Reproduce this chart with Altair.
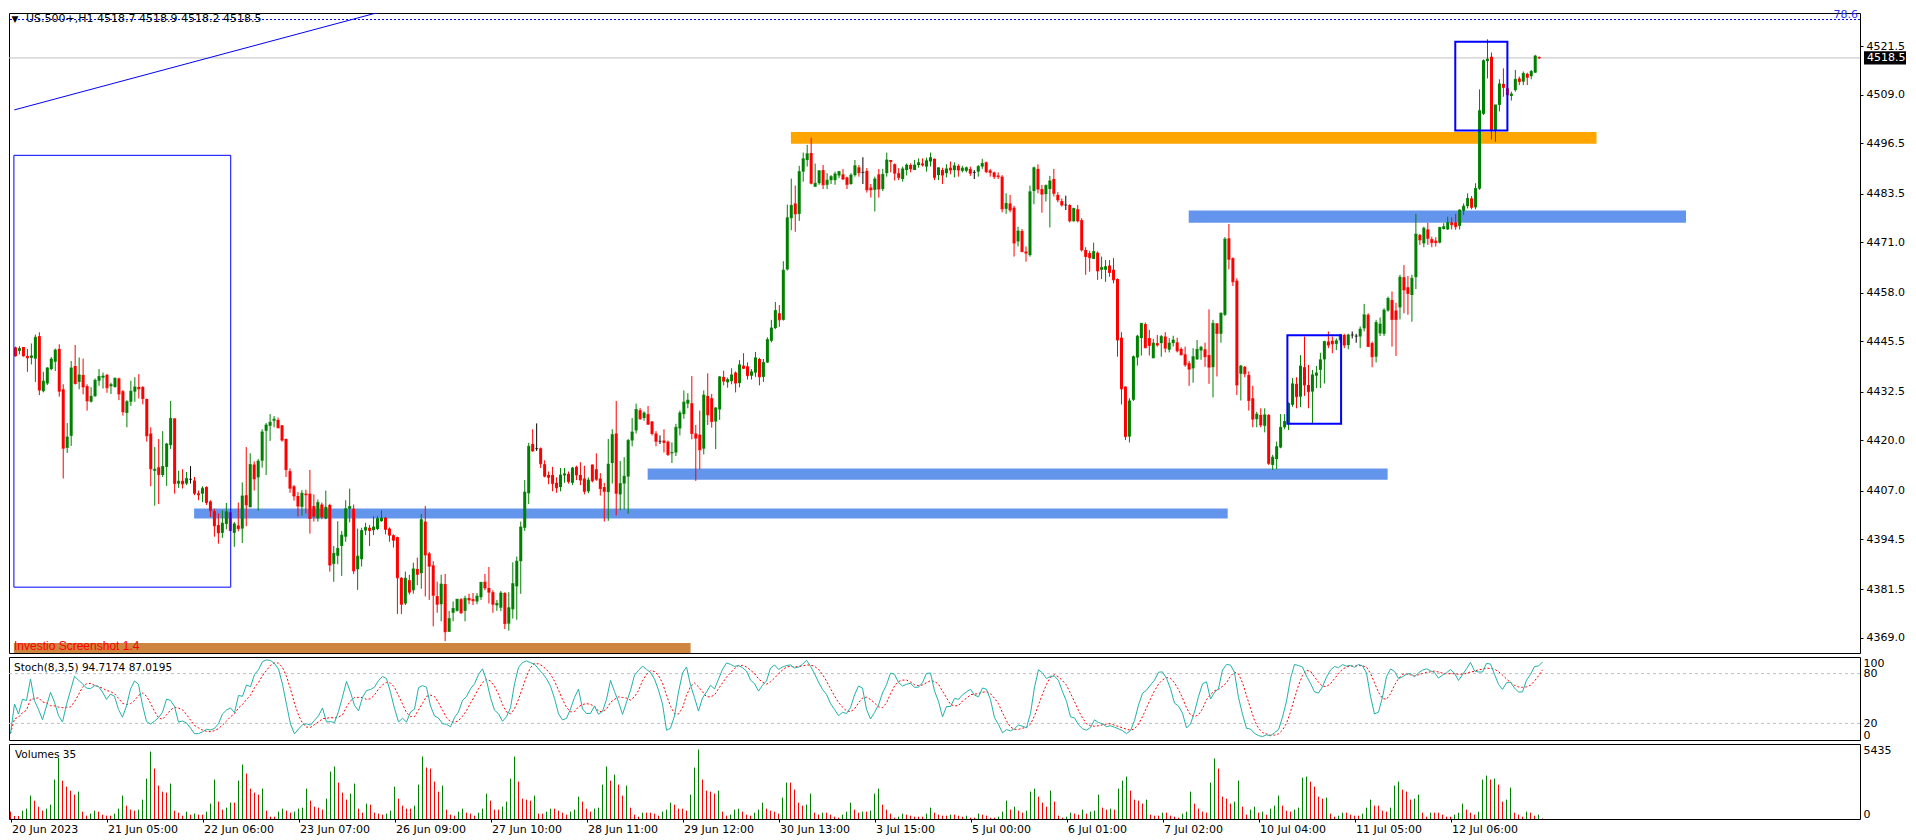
import altair as alt
import pandas as pd

# ---------------- labels / ticks ----------------
time_labels = ["20 Jun 2023", "21 Jun 05:00", "22 Jun 06:00", "23 Jun 07:00", "26 Jun 09:00",
               "27 Jun 10:00", "28 Jun 11:00", "29 Jun 12:00", "30 Jun 13:00", "3 Jul 15:00",
               "5 Jul 00:00", "6 Jul 01:00", "7 Jul 02:00", "10 Jul 04:00", "11 Jul 05:00",
               "12 Jul 06:00"]
time_label_bars = [0, 24, 48, 72, 96, 120, 144, 168, 192, 216, 240, 264, 288, 312, 336, 360]
price_ticks = [4369.0, 4381.5, 4394.5, 4407.0, 4420.0, 4432.5, 4445.5, 4458.0, 4471.0,
               4483.5, 4496.5, 4509.0, 4521.5]
stoch_ticks = [0, 20, 80, 100]
stoch_levels = [20, 80]
volume_ticks = [0, 5435]
last_price = 4518.5
fib_level = 4528.4

# ---------------- US.500+ H1 candles ----------------
open_ = [
4443.9,4443.0,4444.0,4441.7,4441.2,4441.0,4446.8,4432.6,4434.6,4438.3,
4440.2,4443.5,4433.1,4418.0,4421.1,4439.1,4435.0,4436.8,4433.9,4429.9,
4431.3,4435.3,4436.1,4436.8,4433.9,4433.7,4435.9,4432.6,4427.0,4429.9,
4432.5,4433.7,4433.7,4430.6,4421.7,4412.1,4413.0,4411.0,4413.1,4418.7,
4425.6,4408.8,4409.5,4408.8,4409.9,4409.6,4406.3,4406.2,4407.9,4404.2,
4401.7,4398.1,4396.1,4398.4,4401.4,4396.1,4398.0,4397.2,4405.8,4402.7,
4413.7,4410.4,4414.7,4422.4,4423.7,4425.0,4425.2,4423.8,4420.3,4412.0,
4408.1,4405.6,4402.8,4406.2,4406.2,4403.0,4399.8,4403.4,4399.8,4403.3,
4388.1,4390.2,4392.7,4395.1,4402.3,4402.3,4386.7,4389.3,4396.7,4397.4,
4396.8,4397.1,4399.1,4400.0,4397.2,4395.5,4395.0,4384.5,4377.9,4383.9,
4381.3,4386.8,4385.7,4399.0,4390.8,4387.7,4379.8,4377.7,4382.9,4370.6,
4375.5,4376.0,4379.0,4376.0,4379.3,4379.0,4378.4,4379.5,4383.5,4381.9,
4380.8,4377.4,4376.8,4380.6,4372.7,4376.4,4382.3,4388.8,4397.4,4406.3,
4419.0,4417.8,4417.9,4413.8,4411.0,4411.0,4409.0,4407.9,4410.9,4411.3,
4409.0,4413.1,4411.0,4410.1,4406.8,4413.7,4412.5,4410.1,4407.9,4406.6,
4414.1,4421.7,4406.0,4408.8,4410.6,4419.9,4422.5,4427.7,4425.7,4426.7,
4424.8,4421.7,4419.7,4419.9,4419.6,4416.6,4416.8,4423.0,4426.7,4429.4,
4429.5,4421.7,4421.4,4417.8,4431.4,4430.8,4424.8,4427.9,4436.3,4434.9,
4435.2,4437.4,4434.7,4439.2,4439.0,4436.6,4437.4,4440.9,4436.3,4440.0,
4445.6,4448.9,4452.7,4451.0,4464.0,4477.2,4481.0,4478.3,4489.2,4492.2,
4494.0,4485.3,4486.2,4489.6,4485.8,4487.0,4487.0,4488.2,4488.5,4487.7,
4486.0,4488.3,4490.3,4489.0,4489.4,4485.1,4484.5,4488.5,4484.7,4488.8,
4492.2,4491.1,4488.8,4487.3,4489.6,4490.9,4489.6,4490.9,4491.3,4490.5,
4491.8,4492.5,4488.3,4489.6,4488.8,4490.2,4489.6,4490.7,4489.4,4489.4,
4489.9,4489.0,4489.2,4490.5,4491.6,4489.5,4489.0,4488.2,4487.9,4479.6,
4481.0,4479.9,4471.2,4473.9,4468.6,4467.7,4484.2,4489.9,4484.7,4483.4,
4484.7,4487.3,4483.2,4481.6,4480.6,4480.6,4476.4,4479.5,4476.7,4469.0,
4468.2,4466.7,4468.3,4463.9,4463.9,4465.0,4463.9,4461.5,4446.4,4433.8,
4420.9,4430.4,4441.3,4446.3,4449.9,4446.3,4441.1,4445.0,4445.0,4446.7,
4443.3,4445.0,4445.2,4443.5,4442.1,4439.8,4438.5,4440.8,4443.1,4443.4,
4441.9,4438.8,4450.1,4447.4,4452.3,4472.0,4466.9,4461.1,4437.1,4438.9,
4436.8,4430.8,4425.4,4426.5,4423.7,4426.5,4413.6,4415.1,4418.1,4423.3,
4424.3,4429.1,4434.5,4431.2,4438.8,4434.2,4432.5,4436.6,4438.1,4440.8,
4445.4,4445.6,4444.8,4445.7,4447.1,4444.5,4447.1,4446.8,4446.7,4448.8,
4452.3,4445.0,4441.5,4447.5,4447.4,4453.4,4456.1,4453.4,4454.2,4462.0,
4459.4,4457.4,4462.0,4472.9,4470.7,4474.3,4471.8,4471.4,4470.9,4474.4,
4474.3,4476.1,4476.1,4475.2,4479.1,4480.3,4482.3,4480.0,4484.8,4504.1,
4517.7,4518.8,4499.8,4506.4,4511.8,4510.7,4508.7,4510.2,4513.2,4512.4,
4514.4,4513.8,4514.7,4518.7]

high = [
4444.1,4444.2,4444.0,4443.5,4444.9,4447.2,4447.8,4437.6,4438.8,4441.4,
4443.6,4444.7,4434.4,4424.4,4440.4,4444.5,4441.3,4441.0,4434.4,4433.6,
4435.9,4438.3,4437.4,4437.1,4434.8,4436.2,4436.1,4432.9,4430.3,4435.3,
4436.2,4437.0,4433.9,4430.7,4423.3,4418.2,4420.3,4422.3,4419.3,4430.1,
4425.6,4412.1,4412.5,4411.8,4413.3,4410.5,4407.0,4408.1,4408.1,4404.5,
4402.3,4401.1,4401.9,4403.8,4401.5,4398.9,4403.9,4409.1,4418.2,4416.6,
4414.5,4415.1,4422.8,4424.4,4426.7,4426.2,4425.8,4423.9,4420.4,4412.7,
4408.4,4406.6,4407.1,4407.2,4412.3,4406.0,4404.7,4403.9,4407.0,4403.6,
4392.7,4399.1,4396.6,4404.5,4407.5,4403.4,4397.2,4397.4,4398.7,4398.1,
4400.4,4400.4,4401.9,4400.2,4397.5,4395.7,4395.1,4384.7,4386.1,4385.3,
4388.4,4389.7,4401.0,4403.0,4391.2,4388.8,4383.5,4385.3,4385.5,4376.0,
4378.4,4379.0,4379.3,4379.9,4380.4,4380.6,4380.6,4383.5,4385.5,4387.3,
4381.3,4378.8,4381.1,4380.8,4380.8,4388.5,4390.0,4399.0,4409.7,4419.3,
4422.8,4424.3,4418.1,4414.8,4411.9,4413.1,4410.4,4412.8,4412.8,4411.9,
4413.1,4413.4,4414.3,4413.4,4410.4,4413.7,4416.6,4411.5,4409.0,4420.3,
4422.8,4430.1,4414.6,4415.6,4420.3,4425.7,4429.4,4428.3,4427.4,4428.8,
4424.9,4422.3,4421.2,4422.8,4419.9,4419.4,4424.2,4427.6,4432.8,4432.1,
4436.5,4423.9,4427.6,4432.8,4437.2,4431.9,4428.5,4436.5,4437.9,4436.1,
4438.5,4437.7,4440.6,4442.4,4440.0,4438.3,4442.7,4441.2,4440.9,4446.5,
4451.0,4455.6,4454.8,4466.1,4480.7,4487.4,4485.6,4490.7,4494.1,4496.1,
4497.9,4491.3,4489.6,4490.9,4488.8,4488.3,4489.2,4489.4,4489.9,4487.9,
4488.8,4492.2,4490.9,4492.9,4490.1,4486.0,4487.9,4489.9,4489.9,4494.1,
4492.2,4491.3,4490.1,4490.5,4491.3,4491.3,4492.2,4492.6,4492.6,4492.8,
4494.1,4492.6,4490.2,4490.2,4491.1,4491.8,4491.6,4491.1,4490.7,4490.5,
4490.5,4489.6,4490.9,4492.5,4491.8,4489.9,4489.2,4489.0,4488.3,4483.6,
4483.2,4480.4,4475.0,4474.4,4469.9,4485.6,4490.5,4491.1,4485.8,4485.9,
4488.1,4489.9,4483.9,4482.3,4483.0,4480.8,4479.9,4480.6,4477.2,4469.7,
4468.8,4470.9,4468.6,4467.3,4466.4,4466.4,4466.9,4461.7,4447.8,4433.8,
4430.8,4441.8,4447.1,4450.1,4450.3,4448.4,4446.1,4447.1,4447.1,4447.8,
4446.3,4446.9,4446.4,4443.9,4444.1,4440.4,4443.7,4445.8,4444.3,4445.1,
4453.7,4451.0,4450.1,4452.9,4472.3,4475.7,4467.1,4461.7,4439.4,4439.1,
4437.7,4434.0,4427.3,4428.2,4428.2,4426.7,4416.2,4419.6,4426.7,4426.7,
4429.7,4436.0,4436.2,4441.9,4446.7,4439.4,4438.1,4439.1,4442.5,4445.6,
4448.0,4446.7,4446.2,4447.4,4447.4,4447.4,4448.0,4447.4,4449.3,4455.1,
4452.7,4445.4,4451.0,4451.6,4454.0,4457.0,4458.3,4455.4,4462.6,4465.1,
4462.3,4462.6,4478.3,4473.1,4475.0,4476.0,4472.4,4472.3,4475.0,4475.9,
4477.6,4477.4,4478.3,4479.5,4481.0,4483.6,4482.9,4486.2,4510.4,4518.1,
4523.3,4519.9,4506.4,4513.0,4515.8,4511.1,4509.8,4515.4,4513.7,4515.0,
4514.7,4515.4,4519.3,4518.9]

low = [
4441.5,4442.1,4441.5,4437.6,4439.5,4435.0,4431.6,4432.3,4434.2,4438.0,
4437.8,4431.2,4410.1,4416.7,4418.5,4434.3,4433.1,4431.8,4427.6,4429.7,
4431.2,4434.0,4433.3,4432.2,4431.9,4433.5,4430.3,4426.3,4423.3,4428.8,
4429.9,4430.7,4429.2,4419.6,4408.1,4403.1,4403.5,4410.5,4408.2,4417.7,
4406.2,4407.7,4407.5,4408.4,4408.8,4405.8,4404.5,4404.0,4403.3,4400.2,
4395.1,4393.3,4394.8,4397.0,4396.4,4392.5,4396.5,4393.5,4397.8,4402.7,
4407.0,4401.8,4412.9,4411.0,4419.8,4423.3,4423.0,4419.6,4410.5,4406.4,
4404.4,4400.3,4400.5,4401.1,4395.9,4399.0,4399.0,4399.6,4399.6,4386.1,
4383.5,4388.0,4385.0,4393.8,4398.8,4385.5,4381.4,4387.4,4395.5,4392.7,
4395.5,4396.8,4399.0,4395.7,4393.8,4392.3,4375.2,4375.2,4377.5,4380.2,
4380.4,4382.6,4381.7,4379.7,4378.8,4372.0,4375.5,4373.3,4368.2,4370.6,
4373.3,4375.8,4375.2,4373.3,4377.7,4377.5,4377.7,4378.8,4381.3,4377.9,
4375.5,4376.0,4375.9,4371.3,4370.9,4374.0,4373.7,4380.4,4396.6,4403.5,
4417.0,4417.2,4412.8,4410.4,4408.6,4406.8,4406.4,4406.8,4409.0,4408.8,
4408.4,4409.7,4408.4,4406.0,4406.3,4409.1,4409.5,4405.7,4399.0,4399.2,
4408.8,4400.6,4401.9,4402.1,4401.0,4418.4,4421.7,4425.2,4425.0,4423.9,
4421.2,4418.4,4419.0,4416.8,4415.9,4414.1,4415.9,4421.2,4425.5,4428.2,
4420.2,4409.5,4412.5,4416.3,4423.9,4423.2,4417.7,4425.2,4434.1,4433.5,
4434.4,4432.3,4433.6,4438.3,4435.6,4435.6,4436.3,4434.1,4435.0,4439.9,
4445.2,4448.6,4449.2,4450.8,4463.7,4474.1,4473.7,4476.5,4486.6,4490.5,
4485.9,4485.3,4485.8,4484.7,4484.7,4486.0,4485.8,4487.5,4487.0,4484.7,
4485.8,4487.9,4487.9,4486.0,4483.8,4482.5,4478.9,4482.5,4484.2,4487.9,
4489.0,4486.9,4487.0,4486.6,4488.2,4489.0,4489.6,4490.2,4490.5,4489.2,
4490.5,4487.0,4487.0,4486.0,4487.7,4488.5,4487.7,4487.9,4489.0,4489.0,
4488.1,4487.3,4487.9,4489.9,4488.8,4487.9,4487.3,4487.3,4478.7,4478.3,
4478.7,4467.3,4469.9,4468.4,4466.0,4467.3,4480.8,4483.6,4478.6,4481.5,
4474.8,4482.8,4481.3,4480.2,4479.3,4476.1,4476.3,4476.1,4468.6,4462.6,
4463.4,4466.7,4461.3,4461.5,4460.8,4462.1,4460.4,4441.5,4429.2,4420.0,
4419.4,4430.1,4439.2,4441.8,4443.7,4441.8,4441.1,4444.1,4441.5,4442.6,
4442.6,4444.1,4442.6,4441.8,4438.9,4434.0,4434.8,4440.7,4440.7,4438.9,
4434.5,4431.0,4436.4,4445.1,4452.0,4464.0,4459.7,4431.6,4430.2,4436.2,
4427.6,4423.3,4423.3,4423.3,4422.0,4413.6,4412.3,4412.5,4417.9,4422.8,
4422.6,4428.6,4428.2,4428.5,4431.4,4428.2,4424.3,4433.4,4433.4,4434.6,
4443.7,4442.4,4443.2,4445.0,4443.7,4443.4,4446.2,4445.1,4443.7,4448.0,
4444.1,4438.8,4440.0,4446.8,4446.8,4453.1,4444.1,4441.7,4451.1,4452.7,
4452.3,4450.5,4458.9,4470.3,4469.7,4470.3,4469.7,4469.9,4470.7,4474.3,
4474.2,4474.3,4474.2,4474.3,4478.0,4479.7,4479.5,4479.5,4484.5,4503.8,
4513.2,4497.5,4496.9,4504.7,4508.5,4509.0,4507.5,4509.8,4511.5,4511.5,
4511.5,4513.0,4514.7,4518.2]

close = [
4441.7,4443.6,4441.7,4441.2,4441.7,4446.5,4432.9,4435.2,4438.6,4440.9,
4443.2,4432.6,4417.9,4420.8,4438.6,4434.6,4436.8,4433.7,4430.1,4431.3,
4435.4,4436.4,4436.5,4433.5,4434.3,4435.9,4431.9,4427.3,4429.9,4432.6,
4433.7,4433.2,4430.7,4421.1,4412.6,4412.5,4411.1,4413.2,4419.0,4425.6,
4408.8,4409.4,4408.7,4410.1,4409.9,4406.3,4405.9,4407.6,4403.9,4401.8,
4397.9,4396.1,4398.6,4401.5,4396.7,4398.4,4397.2,4405.6,4403.3,4413.7,
4410.0,4414.6,4422.1,4423.9,4424.6,4425.4,4423.2,4420.0,4412.4,4407.6,
4405.6,4403.0,4406.3,4405.9,4399.8,4400.4,4403.9,4400.2,4402.7,4387.8,
4390.8,4392.1,4395.5,4402.3,4402.9,4386.3,4390.1,4396.7,4397.5,4396.7,
4397.6,4399.8,4399.9,4397.0,4395.5,4394.2,4384.5,4377.7,4384.4,4380.8,
4386.8,4385.4,4399.5,4390.4,4387.5,4380.0,4377.7,4382.9,4370.6,4374.0,
4376.6,4379.0,4375.5,4379.2,4378.8,4378.6,4379.8,4383.3,4381.9,4380.8,
4377.7,4377.9,4380.6,4372.7,4376.8,4383.0,4388.8,4397.6,4406.6,4418.4,
4417.2,4417.8,4413.9,4410.7,4410.4,4408.8,4407.7,4411.0,4411.3,4409.3,
4412.8,4411.0,4409.7,4406.8,4409.7,4409.5,4409.9,4407.5,4406.8,4413.8,
4421.4,4406.3,4408.8,4410.7,4419.9,4422.1,4427.9,4425.5,4427.0,4424.1,
4421.7,4419.7,4419.7,4419.4,4416.3,4416.8,4423.3,4427.0,4429.8,4430.3,
4421.7,4420.5,4417.5,4431.6,4426.5,4424.8,4428.3,4436.3,4435.2,4435.6,
4436.8,4434.7,4439.4,4438.5,4436.6,4437.6,4441.2,4436.3,4440.0,4445.9,
4448.9,4453.4,4451.0,4463.8,4477.3,4480.5,4478.3,4489.2,4492.5,4493.8,
4486.2,4486.2,4489.4,4485.8,4487.0,4487.9,4488.6,4489.2,4487.3,4485.9,
4488.3,4490.7,4488.9,4489.0,4484.5,4484.5,4487.3,4484.7,4488.5,4492.2,
4491.8,4488.8,4487.7,4489.9,4490.9,4489.9,4490.9,4491.5,4490.9,4492.0,
4492.8,4487.7,4490.2,4488.3,4489.9,4489.6,4490.7,4489.6,4490.1,4490.2,
4488.8,4489.0,4490.5,4491.3,4489.2,4489.0,4487.9,4487.9,4479.6,4481.0,
4479.3,4470.8,4473.9,4468.6,4468.2,4484.0,4490.2,4484.7,4483.4,4485.6,
4486.8,4483.6,4481.9,4480.6,4480.6,4476.5,4479.7,4476.5,4469.0,4467.3,
4467.0,4468.6,4463.6,4464.5,4464.7,4463.2,4461.3,4445.8,4433.2,4420.9,
4430.1,4441.5,4446.8,4450.1,4443.8,4444.4,4445.0,4444.5,4446.7,4443.7,
4445.0,4445.8,4443.0,4442.0,4439.4,4438.3,4441.5,4443.4,4443.9,4441.5,
4438.8,4450.1,4447.5,4452.7,4471.8,4466.6,4460.8,4434.2,4439.1,4437.1,
4430.2,4425.4,4426.7,4423.9,4426.5,4414.0,4415.6,4418.3,4423.3,4424.8,
4429.5,4434.5,4431.2,4439.1,4434.2,4432.5,4436.8,4437.3,4440.7,4445.4,
4444.5,4444.8,4445.6,4447.1,4444.5,4447.1,4447.1,4446.8,4448.6,4452.3,
4444.1,4441.5,4450.3,4449.9,4453.5,4456.5,4451.1,4451.1,4462.0,4458.7,
4457.8,4461.7,4473.1,4471.6,4474.6,4472.0,4470.9,4470.9,4474.8,4475.0,
4476.1,4475.5,4475.0,4479.3,4480.3,4482.3,4480.0,4484.9,4504.9,4517.8,
4518.2,4499.8,4506.4,4511.8,4510.9,4509.0,4509.2,4513.0,4512.4,4514.5,
4513.5,4515.0,4519.0,4518.5]

volume = [
532,218,218,605,750,1694,1331,895,605,750,
1041,2856,4429,2783,2347,2057,1767,1984,532,242,
387,605,532,315,242,242,387,750,1694,968,
678,605,678,1404,2928,4888,3654,2420,1984,1912,
2565,605,460,242,532,315,387,315,315,532,
1113,2856,1258,678,823,1186,1186,2783,3945,3291,
2202,1912,1767,2202,605,169,169,532,750,605,
460,532,750,823,2202,1331,895,823,678,1476,
3436,3799,2638,1912,1404,1839,2565,750,460,1113,
1041,460,387,315,387,605,2347,1476,968,750,
750,968,2493,4525,3727,3654,2710,1984,2420,678,
315,242,532,750,460,387,242,460,750,1839,
1331,678,678,895,1258,2928,4525,2710,1476,1404,
1331,1694,387,387,532,750,750,605,460,315,
532,678,1621,1258,750,532,750,823,2493,3799,
2783,3219,2493,1694,2420,823,315,169,460,460,
460,387,242,532,678,1186,1041,750,750,605,
1767,3727,5034,2856,2057,1984,1839,2057,532,242,
315,678,750,532,315,242,460,678,1186,750,
605,532,387,1549,2638,2638,2130,1186,968,1041,
1839,460,315,460,460,315,169,97,315,532,
1186,678,460,532,532,605,1839,2202,1041,678,
387,97,169,387,315,242,169,169,169,387,
823,460,315,242,242,315,315,242,169,242,
97,97,387,315,242,97,97,169,532,1331,
678,895,605,460,605,1984,2202,1621,1186,895,
2057,1258,242,97,169,460,387,315,678,387,
532,605,1767,823,678,750,678,2202,2783,3073,
2057,1404,1331,1113,1404,315,242,242,460,460,
242,169,97,387,532,1984,1113,750,532,460,
2638,4380,3654,1621,1476,1113,1258,2783,895,315,
678,895,460,532,315,750,968,1694,968,605,
532,678,823,3001,3073,2710,2347,1621,1476,1549,
387,169,242,460,460,315,242,242,387,823,
1404,968,968,605,532,823,2420,2710,2130,1984,
1404,1476,1767,460,169,460,460,460,315,169,
169,315,460,1113,678,460,315,532,2856,3146,
2856,2928,2493,1258,1404,2275,460,315,169,532,
460,242,315,35]

# ---------------- chart objects (bar index / price units) ----------------
blue_zone_x0 = [44.9, 158.9, 294.9]
blue_zone_x1 = [304.7, 344.9, 419.9]
blue_zone_p0 = [4399.8, 4409.8, 4476.0]
blue_zone_p1 = [4402.4, 4412.7, 4479.2]
orange_zone = {"x0": [194.9], "x1": [397.4], "p0": [4496.4], "p1": [4499.4]}
label_zone = {"x0": [-0.4], "x1": [169.7], "p0": [4364.4], "p1": [4367.7]}
box_thin = {"x0": [-0.4], "x1": [54.1], "p0": [4382.1], "p1": [4493.4]}
box_thick = {"x0": [319.7, 361.9], "x1": [333.2, 375.0], "p0": [4424.2, 4499.8], "p1": [4447.0, 4522.7]}
trend_i = [-0.3, 96.2]
trend_p = [4505.1, 4531.6]

n = len(close)
bars = pd.DataFrame({"i": list(range(n)), "open": open_, "high": high, "low": low,
                     "close": close, "volume": volume})

W = 1851
H_MAIN, H_STOCH, H_VOL = 640, 83, 75
FONT = "DejaVu Sans"
xs = alt.Scale(domain=[-0.375, -0.375 + W / 4], nice=False, zero=False)
ys = alt.Scale(domain=[4365.13, 4530.08], nice=False, zero=False)
dir_scale = alt.Scale(domain=["up", "down", "flat"], range=["#008000", "#ff0000", "#000000"])

price_axis = alt.Axis(orient="right", values=price_ticks, format=".1f", tickSize=3,
                      labelPadding=3, labelOverlap=False, labelFlush=False, title=None)


def X(field="i"):
    return alt.X(f"{field}:Q", scale=xs, axis=None, title=None)


def Y(field):
    return alt.Y(f"{field}:Q", scale=ys, axis=price_axis, title=None)


def YD(value):
    return alt.Y(datum=value, scale=ys, axis=price_axis, title=None)


one = pd.DataFrame({"k": [0]})

# ---- main price panel ----
blue_zones = alt.Chart(pd.DataFrame({"x0": blue_zone_x0, "x1": blue_zone_x1,
                                     "p0": blue_zone_p0, "p1": blue_zone_p1})).mark_rect(
    color="#6495ed", clip=True).encode(x=X("x0"), x2="x1:Q", y=Y("p0"), y2="p1:Q")
orange = alt.Chart(pd.DataFrame(orange_zone)).mark_rect(color="#ffa500", clip=True).encode(
    x=X("x0"), x2="x1:Q", y=Y("p0"), y2="p1:Q")
label_bar = alt.Chart(pd.DataFrame(label_zone)).mark_rect(color="#cd853f", clip=True).encode(
    x=X("x0"), x2="x1:Q", y=Y("p0"), y2="p1:Q")

price_line = alt.Chart(one).mark_rule(color="#c0c0c0", strokeWidth=1).encode(y=YD(last_price))
fib_line = alt.Chart(one).mark_rule(color="#0000ff", strokeWidth=1, strokeDash=[2, 2]).encode(
    y=YD(fib_level))
trend = alt.Chart(pd.DataFrame({"i": trend_i, "p": trend_p})).mark_line(
    color="#0000ff", strokeWidth=1, clip=True).encode(x=X(), y=Y("p"))

base = alt.Chart(bars).transform_calculate(
    dir="datum.close > datum.open ? 'up' : (datum.close < datum.open ? 'down' : 'flat')")
col = alt.Color("dir:N", scale=dir_scale, legend=None)

wicks = base.mark_rule(strokeWidth=1).encode(x=X(), y=Y("low"), y2="high:Q", color=col)
bodies = base.mark_bar(size=3).encode(x=X(), y=Y("open"), y2="close:Q", color=col)
flats = base.mark_tick(orient="horizontal", size=3, thickness=1).encode(
    x=X(), y=Y("close"), color=col)

boxes1 = alt.Chart(pd.DataFrame(box_thin)).mark_rect(
    fillOpacity=0, stroke="#0000ff", strokeWidth=1, clip=True).encode(
    x=X("x0"), x2="x1:Q", y=Y("p0"), y2="p1:Q")
boxes2 = alt.Chart(pd.DataFrame(box_thick)).mark_rect(
    fillOpacity=0, stroke="#0000ff", strokeWidth=2, clip=True).encode(
    x=X("x0"), x2="x1:Q", y=Y("p0"), y2="p1:Q")

header_tri = alt.Chart(one).mark_text(text="▼", font=FONT, fontSize=9, align="center",
                                      baseline="middle", color="black").encode(
    x=alt.value(6), y=alt.value(6))
header = alt.Chart(one).mark_text(text="US.500+,H1  4518.7 4518.9 4518.2 4518.5", font=FONT,
                                  fontSize=11, align="left", baseline="middle",
                                  color="black").encode(x=alt.value(17), y=alt.value(6))
fib_text = alt.Chart(one).mark_text(text="78.6", font=FONT, fontSize=11, align="right",
                                    baseline="bottom", color="#3030ff").encode(
    x=alt.value(1849), y=YD(fib_level))
label_text = alt.Chart(one).mark_text(text="Investio Screenshot 1.4", font="Liberation Sans",
                                      fontSize=12, align="left", baseline="bottom",
                                      color="#ff0000").encode(x=alt.value(5), y=alt.value(640))
price_box = alt.Chart(one).mark_rect(color="black").encode(
    x=alt.value(1855), x2=alt.value(1897),
    y=YD(last_price + 1.7), y2=alt.datum(last_price - 1.7))
price_box_text = alt.Chart(one).mark_text(text=f"{last_price:.1f}", font=FONT, fontSize=11,
                                          align="left", baseline="middle", color="white").encode(
    x=alt.value(1858), y=YD(last_price))

main = alt.layer(
    blue_zones, orange, label_bar, price_line, fib_line, trend,
    wicks, bodies, flats, boxes1, boxes2,
    header_tri, header, fib_text, label_text, price_box, price_box_text
).properties(width=W, height=H_MAIN)

# ---- stochastic (8,3,5) panel ----
sort_i = [alt.SortField("i", order="ascending")]
stoch_base = alt.Chart(bars).transform_window(
    hh="max(high)", ll="min(low)", frame=[-7, 0], sort=sort_i
).transform_calculate(
    num="datum.close - datum.ll", den="datum.hh - datum.ll"
).transform_window(
    snum="sum(num)", sden="sum(den)", frame=[-2, 0], sort=sort_i
).transform_calculate(
    k="datum.sden > 0 ? 100 * datum.snum / datum.sden : 50"
).transform_window(
    d="mean(k)", frame=[-4, 0], sort=sort_i
)
sy = alt.Scale(domain=[0, 100], nice=False, zero=False)
stoch_axis = alt.Axis(orient="right", values=stoch_ticks, ticks=False, labelPadding=3,
                      labelFlush=True, labelOverlap=False, title=None)
levels = alt.Chart(pd.DataFrame({"lvl": stoch_levels})).mark_rule(
    color="#c0c0c0", strokeDash=[3, 3], strokeWidth=1).encode(
    y=alt.Y("lvl:Q", scale=sy, title=None, axis=stoch_axis))
k_line = stoch_base.mark_line(color="#20b2aa", strokeWidth=1, clip=True).encode(
    x=X(), y=alt.Y("k:Q", scale=sy, axis=stoch_axis, title=None))
d_line = stoch_base.mark_line(color="#ff0000", strokeWidth=1, strokeDash=[2, 2], clip=True).encode(
    x=X(), y=alt.Y("d:Q", scale=sy, axis=stoch_axis, title=None))
stoch_text = alt.Chart(one).mark_text(text="Stoch(8,3,5) 94.7174 87.0195", font=FONT,
                                      fontSize=10.5, align="left", baseline="middle",
                                      color="black").encode(x=alt.value(5), y=alt.value(11))
stoch = alt.layer(levels, d_line, k_line, stoch_text).properties(width=W, height=H_STOCH)

# ---- volumes panel ----
label_expr = "[" + ",".join(f"'{s}'" for s in time_labels) + "][indexof(" + \
    "[" + ",".join(str(v) for v in time_label_bars) + "], datum.value)]"
vy = alt.Scale(domain=[0, 5435], nice=False, zero=True)
vol_bars = alt.Chart(bars).transform_window(
    prev="lag(volume)", sort=sort_i
).transform_calculate(
    vdir="datum.prev != null && datum.volume > datum.prev ? 'up' : 'down'"
).mark_rule(strokeWidth=1).encode(
    x=alt.X("i:Q", scale=xs, title=None,
            axis=alt.Axis(values=time_label_bars, labelExpr=label_expr, labelAlign="left",
                          labelOffset=1, tickSize=3, labelPadding=1, labelFlush=False,
                          labelOverlap=False, labelBound=False)),
    y=alt.Y("volume:Q", scale=vy, title=None,
            axis=alt.Axis(orient="right", values=volume_ticks, ticks=False, labelPadding=3,
                          labelFlush=True, labelOverlap=False, format="d")),
    y2=alt.datum(0),
    color=alt.Color("vdir:N", scale=dir_scale, legend=None))
vol_text = alt.Chart(one).mark_text(text="Volumes 35", font=FONT, fontSize=10.5, align="left",
                                    baseline="middle", color="black").encode(
    x=alt.value(6), y=alt.value(11))
vol = alt.layer(vol_bars, vol_text).properties(width=W, height=H_VOL)

chart = alt.vconcat(main, stoch, vol, spacing=2).properties(
    padding=0, background="white"
).configure_view(stroke="black", strokeWidth=1).configure_axis(
    labelFont=FONT, labelFontSize=11, labelColor="black", grid=False, domain=False,
    tickColor="black"
)

chart.save("out.html", embed_options={"renderer": "svg", "actions": False})
